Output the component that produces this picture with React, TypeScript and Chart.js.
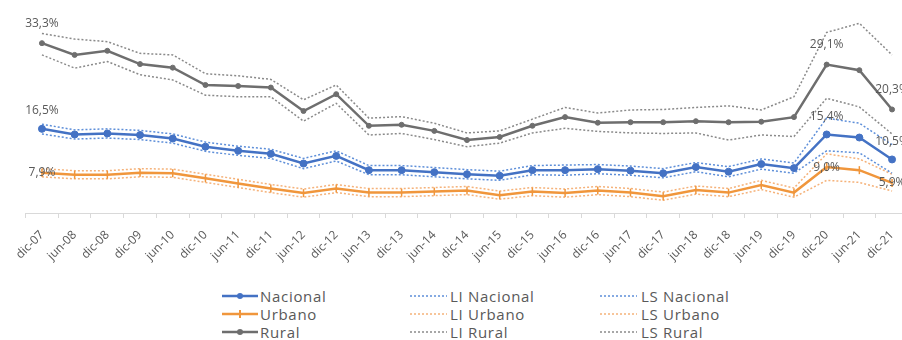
import React, { useEffect, useRef } from 'react';
import { Chart, registerables } from 'chart.js';

Chart.register(...registerables);

const labels = ['dic-07', 'jun-08', 'dic-08', 'dic-09', 'jun-10', 'dic-10', 'jun-11', 'dic-11', 'jun-12', 'dic-12', 'jun-13', 'dic-13', 'jun-14', 'dic-14', 'jun-15', 'dic-15', 'jun-16', 'dic-16', 'jun-17', 'dic-17', 'jun-18', 'dic-18', 'jun-19', 'dic-19', 'dic-20', 'jun-21', 'dic-21'];

const nacional = [16.5, 15.4, 15.6, 15.3, 14.6, 13.0, 12.2, 11.6, 9.7, 11.2, 8.4, 8.4, 8.0, 7.6, 7.3, 8.4, 8.4, 8.6, 8.3, 7.8, 9.0, 8.1, 9.6, 8.8, 15.4, 14.8, 10.5];
const lsNacional = [17.4, 16.3, 16.5, 16.2, 15.5, 13.9, 13.1, 12.5, 10.7, 12.2, 9.3, 9.3, 8.9, 8.5, 8.2, 9.3, 9.4, 9.5, 9.2, 8.7, 9.9, 9.1, 10.6, 9.8, 18.6, 17.6, 13.4];
const liNacional = [15.5, 14.5, 14.7, 14.4, 13.7, 12.1, 11.3, 10.7, 8.7, 10.2, 7.5, 7.5, 7.1, 6.7, 6.4, 7.5, 7.4, 7.7, 7.4, 6.9, 8.1, 7.1, 8.6, 7.8, 12.2, 11.8, 7.8];

const urbano = [7.9, 7.5, 7.5, 7.9, 7.8, 6.8, 5.8, 4.8, 3.9, 4.8, 4.0, 4.0, 4.2, 4.4, 3.5, 4.2, 3.9, 4.4, 4.0, 3.3, 4.5, 4.0, 5.5, 4.0, 9.0, 8.4, 5.9];
const lsUrbano = [8.7, 8.3, 8.3, 8.7, 8.6, 7.6, 6.6, 5.6, 4.7, 5.6, 4.8, 4.8, 5.0, 5.2, 4.3, 5.0, 4.7, 5.2, 4.8, 4.1, 5.3, 4.8, 6.4, 4.9, 11.6, 10.6, 7.6];
const liUrbano = [7.1, 6.7, 6.7, 7.1, 7.0, 6.0, 5.0, 4.0, 3.1, 4.0, 3.2, 3.2, 3.4, 3.6, 2.7, 3.4, 3.1, 3.6, 3.2, 2.5, 3.7, 3.2, 4.6, 3.1, 6.4, 6.0, 4.3];

const rural = [33.3, 31.0, 31.8, 29.2, 28.5, 25.1, 24.9, 24.6, 20.0, 23.3, 17.1, 17.3, 16.1, 14.3, 14.9, 17.1, 18.8, 17.7, 17.8, 17.8, 18.0, 17.8, 17.9, 18.8, 29.1, 28.0, 20.3];
const lsRural = [35.2, 34.1, 33.6, 31.3, 31.0, 27.3, 26.9, 26.2, 22.2, 25.1, 18.6, 18.9, 17.6, 15.7, 16.1, 18.4, 20.7, 19.6, 20.2, 20.3, 20.7, 21.0, 20.2, 22.8, 35.4, 37.2, 31.0];
const liRural = [31.0, 28.4, 29.7, 27.1, 26.1, 23.1, 22.8, 22.8, 18.0, 21.5, 15.3, 15.6, 14.4, 13.0, 13.7, 15.7, 16.6, 16.0, 15.7, 15.6, 15.7, 14.3, 15.3, 15.0, 22.5, 20.8, 15.5];

const labeledIdx = [0, 24, 26];

const BLUE = '#4472C4';
const ORANGE = '#F0963C';
const GRAY = '#6E6E6E';
const BLUE_D = '#5E8FD9';
const ORANGE_D = '#F5B27A';
const GRAY_D = '#8A8A8A';
const TEXT = '#595959';
const FONT = '"Open Sans", "DejaVu Sans", sans-serif';

const fmt = (v: number) => v.toFixed(1).replace('.', ',') + '%';

type Series = { name: string; data: number[]; color: string; dashed: boolean; marker?: string; labelDy?: number };

const series: Series[] = [
  { name: 'Nacional', data: nacional, color: BLUE, dashed: false, marker: 'circle', labelDy: -18 },
  { name: 'LI Nacional', data: liNacional, color: BLUE_D, dashed: true },
  { name: 'LS Nacional', data: lsNacional, color: BLUE_D, dashed: true },
  { name: 'Urbano', data: urbano, color: ORANGE, dashed: false, marker: 'line', labelDy: 0 },
  { name: 'LI Urbano', data: liUrbano, color: ORANGE_D, dashed: true },
  { name: 'LS Urbano', data: lsUrbano, color: ORANGE_D, dashed: true },
  { name: 'Rural', data: rural, color: GRAY, dashed: false, marker: 'circle', labelDy: -20 },
  { name: 'LI Rural', data: liRural, color: GRAY_D, dashed: true },
  { name: 'LS Rural', data: lsRural, color: GRAY_D, dashed: true },
];

const labelPlugin = {
  id: 'pointValueLabels',
  afterDatasetsDraw(chart: any) {
    const ctx = chart.ctx;
    ctx.save();
    ctx.font = `12px ${FONT}`;
    ctx.fillStyle = TEXT;
    ctx.textAlign = 'center';
    ctx.textBaseline = 'middle';
    series.forEach((s, di) => {
      if (s.labelDy === undefined) return;
      const meta = chart.getDatasetMeta(di);
      labeledIdx.forEach((i) => {
        const el = meta.data[i];
        if (!el) return;
        ctx.fillText(fmt(s.data[i]), el.x, el.y + s.labelDy);
      });
    });
    ctx.restore();
  },
};

function LegendSample({ s }: { s: Series }) {
  if (s.dashed) {
    return (
      <svg width={37} height={10} style={{ display: 'block' }}>
        <line x1={0} y1={5} x2={37} y2={5} stroke={s.color} strokeWidth={1.5} strokeDasharray="2 2" />
      </svg>
    );
  }
  return (
    <svg width={36} height={10} style={{ display: 'block' }}>
      <line x1={0} y1={5} x2={36} y2={5} stroke={s.color} strokeWidth={2.5} />
      {s.marker === 'circle' ? (
        <circle cx={18} cy={5} r={3} fill={s.color} />
      ) : (
        <line x1={18} y1={1} x2={18} y2={9} stroke={s.color} strokeWidth={2} />
      )}
    </svg>
  );
}

export default function App() {
  const ref = useRef<HTMLCanvasElement | null>(null);

  useEffect(() => {
    if (!ref.current) return;
    const chart = new Chart(ref.current, {
      type: 'line',
      data: {
        labels,
        datasets: series.map((s) => ({
          label: s.name,
          data: s.data,
          borderColor: s.color,
          backgroundColor: s.color,
          borderWidth: s.dashed ? 1.5 : 2.5,
          borderDash: s.dashed ? [2, 2] : [],
          pointRadius: s.dashed ? 0 : s.marker === 'circle' ? (s.name === 'Rural' ? 2.5 : 3.5) : 4,
          pointStyle: s.marker === 'line' ? 'line' : 'circle',
          rotation: s.marker === 'line' ? 90 : 0,
          pointBorderWidth: s.marker === 'line' ? 1.5 : 1,
          pointHoverRadius: 0,
          tension: 0,
          fill: false,
          order: s.dashed ? 1 : 0,
        })),
      },
      options: {
        animation: false,
        responsive: true,
        maintainAspectRatio: false,
        events: [],
        layout: { padding: { left: 25.6, right: 21.6, top: 9, bottom: 0 } },
        plugins: { legend: { display: false }, tooltip: { enabled: false } },
        scales: {
          x: {
            offset: true,
            border: { display: true, color: '#D9D9D9', width: 1 },
            grid: { display: true, offset: true, drawOnChartArea: false, drawTicks: true, tickLength: 5, color: '#D9D9D9' },
            ticks: {
              autoSkip: false,
              minRotation: 45,
              maxRotation: 45,
              padding: 10,
              color: TEXT,
              font: { family: FONT, size: 12 },
            },
            afterFit: (scale: any) => {
              scale.height = 60;
            },
          },
          y: { display: false, min: 0, max: 40 },
        },
      },
      plugins: [labelPlugin],
    });
    return () => chart.destroy();
  }, []);

  const cols = [
    { sampleX: 222, textX: 260, items: [series[0], series[3], series[6]] },
    { sampleX: 410, textX: 450, items: [series[1], series[4], series[7]] },
    { sampleX: 600, textX: 641, items: [series[2], series[5], series[8]] },
  ];
  const rowY = [296, 314, 332];

  return (
    <div style={{ position: 'fixed', left: 0, top: 0, width: 902, height: 340, overflow: 'hidden', background: '#fff', fontFamily: FONT }}>
      <div style={{ position: 'absolute', left: 0, top: 0, width: 930, height: 273 }}>
        <canvas ref={ref} />
      </div>
      {cols.map((c, ci) =>
        c.items.map((s, ri) => (
          <React.Fragment key={`${ci}-${ri}`}>
            <div style={{ position: 'absolute', left: c.sampleX, top: rowY[ri] - 5 }}>
              <LegendSample s={s} />
            </div>
            <div style={{ position: 'absolute', left: c.textX, top: rowY[ri] - 10, height: 20, lineHeight: '20px', fontSize: 15, color: TEXT, whiteSpace: 'nowrap', letterSpacing: 0.7 }}>
              {s.name}
            </div>
          </React.Fragment>
        ))
      )}
    </div>
  );
}
